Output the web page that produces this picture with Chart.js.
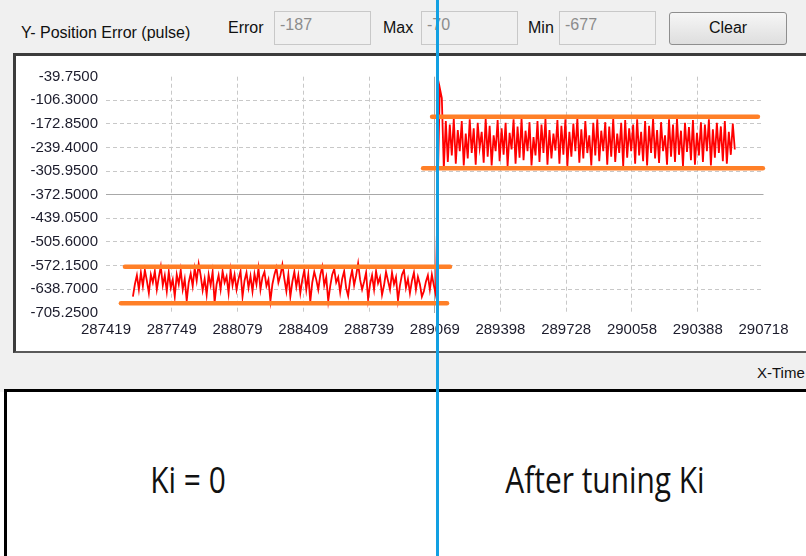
<!DOCTYPE html>
<html>
<head>
<meta charset="utf-8">
<script src="https://cdn.jsdelivr.net/npm/chart.js@4.4.0/dist/chart.umd.min.js"></script>
<style>
  html, body { margin: 0; padding: 0; }
  body { width: 806px; height: 556px; overflow: hidden; position: relative; background: #fff;
         font-family: "Liberation Sans", Arial, sans-serif; }
  #top { position: absolute; left: 0; top: 0; width: 806px; height: 392px; background: #f0f0f0; }
  .lbl { position: absolute; font-size: 16px; line-height: 18px; color: #111; white-space: nowrap; }
  .box { position: absolute; top: 11px; height: 34px; width: 97px; box-sizing: border-box;
         border: 1px solid #c8c8c8; background: #f0f0f0; color: #8c8c8c; font-size: 16px;
         line-height: 18px; padding: 4px 0 0 5px; }
  #clear { position: absolute; left: 669px; top: 12px; width: 118px; height: 33px; box-sizing: border-box;
           border: 1px solid #8e8e8e; border-radius: 3px; background: linear-gradient(#f6f6f6, #dedede);
           font-size: 16px; line-height: 30px; text-align: center; color: #111; }
  #panel { position: absolute; left: 13px; top: 53px; width: 800px; height: 300px; box-sizing: border-box;
           background: #fff; border-top: 3px solid #3c3c3c; border-left: 3px solid #3c3c3c;
           border-bottom: 2px solid #5a5a5a; }
  #wrap { position: absolute; left: 16px; top: 56px; width: 790px; height: 294px; }
  #xtime { position: absolute; left: 757px; top: 364px; font-size: 15px; color: #111; }
  #bottom { position: absolute; left: 4px; top: 389px; width: 900px; height: 300px; box-sizing: border-box;
            border: 3px solid #000; background: #fff; }
  .big { position: absolute; top: 460px; width: 300px; text-align: center; font-family: "Open Sans", sans-serif;
         font-size: 36px; line-height: 40px; color: #111; transform: scaleX(0.83); white-space: nowrap; }
  #marker { position: absolute; left: 436px; top: 0; width: 3px; height: 556px; background: #12a0e2; }
</style>
</head>
<body>
<div id="top"></div>
<div class="lbl" style="left:21px; top:24px;">Y- Position Error (pulse)</div>
<div class="lbl" style="left:228px; top:19px;">Error</div>
<div class="box" style="left:274px;">-187</div>
<div class="lbl" style="left:383px; top:19px;">Max</div>
<div class="box" style="left:421px;">-70</div>
<div class="lbl" style="left:528px; top:19px;">Min</div>
<div class="box" style="left:559px;">-677</div>
<div id="clear">Clear</div>
<div id="panel"></div>
<div id="wrap"><canvas id="errChart" width="790" height="294"></canvas></div>
<div id="xtime">X-Time</div>
<div id="bottom"></div>
<div class="big" style="left:38px;">Ki = 0</div>
<div class="big" style="left:455px;">After tuning Ki</div>
<div id="marker"></div>

<script>
// Axis ticks
const xTicks = [287419, 287749, 288079, 288409, 288739, 289069, 289398, 289728, 290058, 290388, 290718];
const yTicks = [-39.75, -106.3, -172.85, -239.4, -305.95, -372.5, -439.05, -505.6, -572.15, -638.7, -705.25];
const yTickLabels = ['-39.7500', '-106.3000', '-172.8500', '-239.4000', '-305.9500', '-372.5000',
                     '-439.0500', '-505.6000', '-572.1500', '-638.7000', '-705.2500'];
const yMiddle = -372.5;
const xMiddle = 289069;

// Position error samples, Ki = 0 (sample period 10)
const beforeStart = 287554;
const sampleStep = 10;
const errorBefore = [
  -660,-625,-600,-640,-592,-630,-585,-615,-650,-598,
  -620,-588,-640,-605,-575,-628,-600,-645,-590,-635,
  -612,-660,-598,-625,-585,-640,-610,-672,-620,-595,
  -630,-580,-615,-568,-600,-642,-610,-655,-598,-628,
  -590,-676,-625,-600,-640,-588,-620,-603,-650,-585,
  -628,-598,-640,-610,-588,-660,-615,-592,-635,-602,
  -645,-596,-625,-580,-640,-605,-590,-630,-612,-672,
  -625,-598,-578,-620,-600,-570,-610,-645,-598,-660,
  -618,-590,-632,-600,-650,-612,-585,-640,-598,-674,
  -620,-590,-612,-640,-600,-576,-628,-605,-672,-630,
  -598,-582,-620,-605,-648,-610,-588,-636,-658,-612,
  -585,-628,-600,-566,-612,-640,-618,-592,-668,-625,
  -600,-640,-588,-622,-605,-655,-628,-590,-615,-640,
  -592,-625,-605,-670,-628,-598,-585,-635,-610,-650,
  -615,-592,-640,-604,-625,-660,-645,-618,-600,-640,
  -598,-628,-655
];

// Position error samples after tuning Ki
const afterStart = 289084;
const errorAfter = [
  -330,-72,-100,-300,-165,-280,-175,-262,-158,-285,
  -190,-250,-165,-290,-200,-270,-160,-255,-185,-288,
  -170,-240,-195,-282,-158,-265,-178,-290,-205,-250,
  -162,-278,-185,-260,-170,-292,-198,-245,-160,-285,
  -180,-268,-158,-275,-192,-250,-168,-290,-210,-262,
  -165,-280,-175,-255,-158,-288,-190,-270,-200,-248,
  -162,-285,-178,-260,-160,-292,-195,-265,-172,-250,
  -158,-282,-188,-270,-165,-255,-205,-290,-170,-262,
  -160,-278,-192,-250,-168,-288,-180,-265,-158,-280,
  -200,-255,-170,-292,-162,-268,-185,-250,-175,-285,
  -160,-262,-195,-278,-165,-290,-178,-255,-158,-270,
  -190,-283,-168,-250,-205,-288,-160,-265,-175,-280,
  -158,-260,-192,-292,-170,-252,-182,-275,-162,-288,
  -198,-262,-168,-280,-175,-250,-160,-290,-188,-268,
  -170,-255,-180,-278,-165,-285,-195,-260,-172,-245
];

// Orange band markers: [xFrom, xTo, y]
const bands = [
  [287514, 289145, -575.5],
  [287494, 289130, -678.8],
  [289055, 290690, -152.5],
  [289010, 290715, -298]
];

const errorPoints = errorBefore.map((v, i) => ({ x: beforeStart + i * sampleStep, y: v }))
  .concat(errorAfter.map((v, i) => ({ x: afterStart + i * sampleStep, y: v })));

const datasets = bands.map(b => ({
  data: [{ x: b[0], y: b[2] }, { x: b[1], y: b[2] }],
  borderColor: '#ff7f27',
  borderWidth: 4.5,
  borderCapStyle: 'round',
  pointRadius: 0,
  clip: false,
  order: 0
}));
datasets.push({
  data: errorPoints,
  borderColor: '#ff0000',
  borderWidth: 1.8,
  pointRadius: 0,
  tension: 0,
  order: 1
});

const tickFont = { family: '"Liberation Sans", Arial, sans-serif', size: 15 };

new Chart(document.getElementById('errChart').getContext('2d'), {
  type: 'line',
  data: { datasets: datasets },
  options: {
    responsive: false,
    animation: false,
    layout: { padding: { top: 20.7, right: 42.5, left: 0, bottom: 0 } },
    plugins: { legend: { display: false }, tooltip: { enabled: false } },
    scales: {
      x: {
        type: 'linear',
        min: xTicks[0],
        max: xTicks[xTicks.length - 1],
        afterBuildTicks: s => { s.ticks = xTicks.map(v => ({ value: v })); },
        afterFit: s => { s.height = 37.3; },
        ticks: {
          autoSkip: false, maxRotation: 0, padding: 8, color: '#1c1c2c', font: tickFont,
          callback: (v, i) => String(xTicks[i])
        },
        grid: {
          drawTicks: false,
          color: c => (c.index === 0 || c.index === xTicks.length - 1) ? 'rgba(0,0,0,0)'
                     : (c.tick && c.tick.value === xMiddle ? '#a8a8a8' : '#c8c8c8')
        },
        border: { display: false, dash: c => (c.tick && c.tick.value === xMiddle) ? [] : [4, 3] }
      },
      y: {
        type: 'linear',
        min: yTicks[yTicks.length - 1],
        max: yTicks[0],
        afterBuildTicks: s => { s.ticks = yTicks.slice().reverse().map(v => ({ value: v })); },
        afterFit: s => { s.width = 90; },
        ticks: {
          padding: 8, color: '#1c1c2c', font: tickFont,
          callback: (v) => yTickLabels[yTicks.indexOf(v)]
        },
        grid: {
          drawTicks: false,
          color: c => (c.index === 0 || c.index === yTicks.length - 1) ? 'rgba(0,0,0,0)'
                     : (c.tick && c.tick.value === yMiddle ? '#a8a8a8' : '#c8c8c8')
        },
        border: { display: false, dash: c => (c.tick && c.tick.value === yMiddle) ? [] : [4, 3] }
      }
    }
  }
});
</script>
</body>
</html>
